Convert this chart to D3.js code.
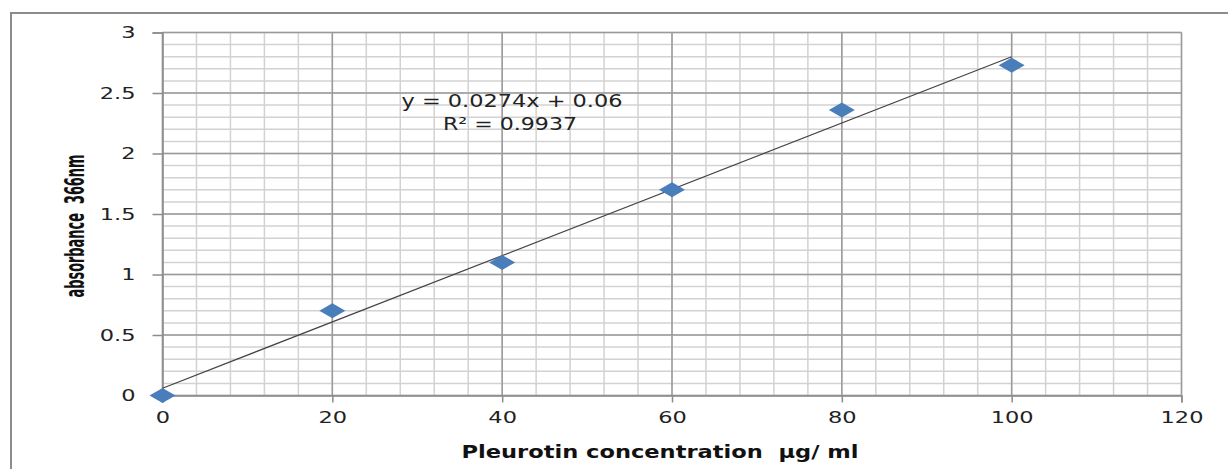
<!DOCTYPE html>
<html>
<head>
<meta charset="utf-8">
<script src="https://cdn.jsdelivr.net/npm/d3@7"></script>
<style>
  body { margin: 0; background: #fff; }
  svg { display: block; }
  text { white-space: pre; }
</style>
</head>
<body>
<div id="chart"></div>
<script>
var concentration = [0, 20, 40, 60, 80, 100];
var absorbance = [0, 0.7, 1.1, 1.7, 2.36, 2.73];
var xTicks = [0, 20, 40, 60, 80, 100, 120];
var yTicks = [0, 0.5, 1, 1.5, 2, 2.5, 3];
var slope = 0.0274;
var intercept = 0.06;

var width = 1228;
var height = 469;

var svg = d3.select('#chart')
  .append('svg')
  .attr('width', width)
  .attr('height', height);

// outer chart border
svg.append('rect')
  .attr('x', 11).attr('y', 13)
  .attr('width', 1240).attr('height', 480)
  .attr('fill', 'none')
  .attr('stroke', '#8c8c8c')
  .attr('stroke-width', 2);

var x = d3.scaleLinear().domain([0, 120]).range([162.5, 1181.5]);
var y = d3.scaleLinear().domain([0, 3]).range([395.5, 32.5]);

// minor grid
var g = svg.append('g');
g.selectAll('.vminor')
  .data(d3.range(0, 121, 4))
  .enter().append('line')
  .attr('x1', function(d) { return x(d); })
  .attr('x2', function(d) { return x(d); })
  .attr('y1', y(0)).attr('y2', y(3))
  .attr('stroke', '#d2d2d2').attr('stroke-width', 1.5);
g.selectAll('.hminor')
  .data(d3.range(0, 31).map(function(i) { return i / 10; }))
  .enter().append('line')
  .attr('y1', function(d) { return y(d); })
  .attr('y2', function(d) { return y(d); })
  .attr('x1', x(0)).attr('x2', x(120))
  .attr('stroke', '#d2d2d2').attr('stroke-width', 1.5);

// major grid
g.selectAll('.vmajor')
  .data(xTicks)
  .enter().append('line')
  .attr('x1', function(d) { return x(d); })
  .attr('x2', function(d) { return x(d); })
  .attr('y1', y(0)).attr('y2', y(3))
  .attr('stroke', '#9a9a9a').attr('stroke-width', 1.5);
g.selectAll('.hmajor')
  .data(yTicks)
  .enter().append('line')
  .attr('y1', function(d) { return y(d); })
  .attr('y2', function(d) { return y(d); })
  .attr('x1', x(0)).attr('x2', x(120))
  .attr('stroke', '#9a9a9a').attr('stroke-width', 1.5);

// axes
var xAxis = d3.axisBottom(x).tickValues(xTicks).tickSize(7).tickPadding(10);
var yAxis = d3.axisLeft(y).tickValues(yTicks).tickSize(10)
  .tickFormat(function(d) { return String(d); });

var gx = svg.append('g')
  .attr('transform', 'translate(0,' + y(0) + ')')
  .call(xAxis);
var gy = svg.append('g')
  .attr('transform', 'translate(' + x(0) + ',0)')
  .call(yAxis);

[gx, gy].forEach(function(a) {
  a.select('.domain').attr('stroke', '#8c8c8c').attr('stroke-width', 1.5);
  a.selectAll('.tick line').attr('stroke', '#8c8c8c').attr('stroke-width', 1.5);
  a.selectAll('.tick text')
    .attr('fill', '#222')
    .style('font-family', '"DejaVu Sans", sans-serif')
    .style('font-size', '15px');
});
// the source picture is stretched sideways, so stretch the labels too
gx.selectAll('.tick text')
  .attr('y', 17)
  .attr('transform', 'scale(1.5,1)');
gy.selectAll('.tick text')
  .attr('x', -27 / 1.5)
  .attr('dy', '0.35em')
  .attr('transform', 'scale(1.5,1)');

// trendline
svg.append('line')
  .attr('x1', x(0)).attr('y1', y(intercept))
  .attr('x2', x(100)).attr('y2', y(slope * 100 + intercept))
  .attr('stroke', '#444')
  .attr('stroke-width', 1.2);

// markers
svg.selectAll('.pt')
  .data(concentration)
  .enter().append('path')
  .attr('class', 'pt')
  .attr('d', 'M-13,0L0,-7.5L13,0L0,7.5Z')
  .attr('transform', function(d, i) {
    return 'translate(' + x(d) + ',' + y(absorbance[i]) + ')';
  })
  .attr('fill', '#4a7ebb');

// equation
svg.append('text')
  .attr('x', 512).attr('y', 107)
  .attr('text-anchor', 'middle')
  .attr('textLength', 221)
  .attr('lengthAdjust', 'spacingAndGlyphs')
  .style('font-family', '"DejaVu Sans", sans-serif')
  .style('font-size', '17px')
  .attr('fill', '#222')
  .text('y = 0.0274x + 0.06');
svg.append('text')
  .attr('x', 510).attr('y', 130)
  .attr('text-anchor', 'middle')
  .attr('textLength', 134)
  .attr('lengthAdjust', 'spacingAndGlyphs')
  .style('font-family', '"DejaVu Sans", sans-serif')
  .style('font-size', '17px')
  .attr('fill', '#222')
  .text('R² = 0.9937');

// axis titles
svg.append('text')
  .attr('x', 660).attr('y', 458)
  .attr('text-anchor', 'middle')
  .attr('textLength', 397)
  .attr('lengthAdjust', 'spacingAndGlyphs')
  .style('font-family', '"DejaVu Sans", sans-serif')
  .style('font-size', '18px')
  .style('font-weight', 'bold')
  .attr('fill', '#111')
  .text('Pleurotin concentration  µg/ ml');

svg.append('text')
  .attr('transform', 'translate(84,226) rotate(-90)')
  .attr('text-anchor', 'middle')
  .attr('textLength', 143)
  .attr('lengthAdjust', 'spacingAndGlyphs')
  .style('font-family', '"Liberation Sans Narrow", "DejaVu Sans Condensed", sans-serif')
  .style('font-size', '26px')
  .style('font-weight', 'bold')
  .attr('fill', '#111')
  .text('absorbance  366nm');
</script>
</body>
</html>
